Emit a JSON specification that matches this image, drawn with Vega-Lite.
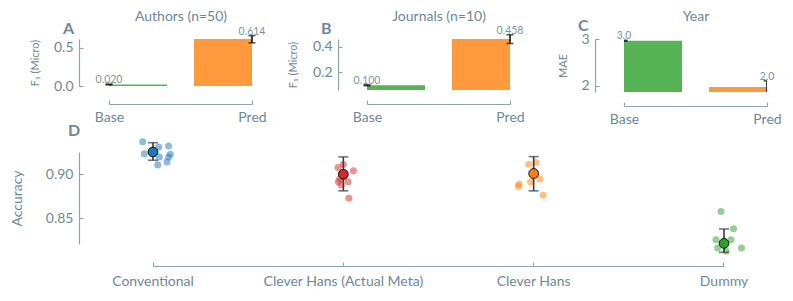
{
  "$schema": "https://vega.github.io/schema/vega-lite/v6.json",
  "background": "white",
  "padding": {"left": 10, "top": 9, "right": 0, "bottom": 0},
  "config": {
    "font": "Lato",
    "view": {"stroke": null},
    "axis": {
      "labelColor": "#6f8797", "titleColor": "#6f8797", "domainColor": "#8ea2b0", "tickColor": "#8ea2b0",
      "grid": false, "labelFont": "Lato", "titleFont": "Lato", "titleFontWeight": "normal",
      "labelFontSize": 14, "domainWidth": 1.2, "tickWidth": 1.2
    },
    "title": {"color": "#6f8797", "font": "Lato"}
  },
  "datasets": {
    "bars": [
      {"panel": "A", "cond": "Base", "value": 0.020, "lo": 0.016, "hi": 0.025, "label": "0.020"},
      {"panel": "A", "cond": "Pred", "value": 0.614, "lo": 0.565, "hi": 0.660, "label": "0.614"},
      {"panel": "B", "cond": "Base", "value": 0.100, "lo": 0.097, "hi": 0.104, "label": "0.100"},
      {"panel": "B", "cond": "Pred", "value": 0.458, "lo": 0.423, "hi": 0.491, "label": "0.458"},
      {"panel": "C", "cond": "Base", "value": 2.964, "lo": 2.955, "hi": 2.973, "label": "3.0"},
      {"panel": "C", "cond": "Pred", "value": 1.979, "lo": 1.851, "hi": 2.107, "label": "2.0"}
    ],
    "acc": [
      {"method": "Conventional", "jitter": -0.054, "acc": 0.9370},
      {"method": "Conventional", "jitter": -0.046, "acc": 0.9234},
      {"method": "Conventional", "jitter": 0.030, "acc": 0.9310},
      {"method": "Conventional", "jitter": 0.082, "acc": 0.9322},
      {"method": "Conventional", "jitter": 0.091, "acc": 0.9227},
      {"method": "Conventional", "jitter": 0.082, "acc": 0.9197},
      {"method": "Conventional", "jitter": 0.033, "acc": 0.9197},
      {"method": "Conventional", "jitter": 0.025, "acc": 0.9106},
      {"method": "Conventional", "jitter": 0.074, "acc": 0.9140},
      {"method": "Conventional", "jitter": -0.010, "acc": 0.9260},
      {"method": "Clever Hans (Actual Meta)", "jitter": -0.028, "acc": 0.9075},
      {"method": "Clever Hans (Actual Meta)", "jitter": 0.000, "acc": 0.9111},
      {"method": "Clever Hans (Actual Meta)", "jitter": 0.053, "acc": 0.9038},
      {"method": "Clever Hans (Actual Meta)", "jitter": -0.019, "acc": 0.8947},
      {"method": "Clever Hans (Actual Meta)", "jitter": 0.025, "acc": 0.8913},
      {"method": "Clever Hans (Actual Meta)", "jitter": -0.011, "acc": 0.8878},
      {"method": "Clever Hans (Actual Meta)", "jitter": 0.029, "acc": 0.8725},
      {"method": "Clever Hans (Actual Meta)", "jitter": -0.026, "acc": 0.8913},
      {"method": "Clever Hans (Actual Meta)", "jitter": 0.005, "acc": 0.8970},
      {"method": "Clever Hans", "jitter": -0.026, "acc": 0.9114},
      {"method": "Clever Hans", "jitter": 0.012, "acc": 0.9134},
      {"method": "Clever Hans", "jitter": -0.016, "acc": 0.8913},
      {"method": "Clever Hans", "jitter": 0.033, "acc": 0.8944},
      {"method": "Clever Hans", "jitter": -0.077, "acc": 0.8888},
      {"method": "Clever Hans", "jitter": -0.081, "acc": 0.8859},
      {"method": "Clever Hans", "jitter": 0.050, "acc": 0.8759},
      {"method": "Clever Hans", "jitter": 0.000, "acc": 0.9035},
      {"method": "Dummy", "jitter": -0.016, "acc": 0.8574},
      {"method": "Dummy", "jitter": 0.050, "acc": 0.8378},
      {"method": "Dummy", "jitter": -0.042, "acc": 0.8253},
      {"method": "Dummy", "jitter": 0.037, "acc": 0.8253},
      {"method": "Dummy", "jitter": -0.033, "acc": 0.8157},
      {"method": "Dummy", "jitter": 0.092, "acc": 0.8157},
      {"method": "Dummy", "jitter": 0.011, "acc": 0.8123},
      {"method": "Dummy", "jitter": 0.000, "acc": 0.8197}
    ],
    "accsum": [
      {"method": "Conventional", "mean": 0.9253, "lo": 0.9159, "hi": 0.9359},
      {"method": "Clever Hans (Actual Meta)", "mean": 0.9000, "lo": 0.8810, "hi": 0.9197},
      {"method": "Clever Hans", "mean": 0.9007, "lo": 0.8810, "hi": 0.9200},
      {"method": "Dummy", "mean": 0.8211, "lo": 0.8109, "hi": 0.8375}
    ]
  },
  "spacing": -3,
  "vconcat": [
    {
      "spacing": 20,
      "hconcat": [
        {
          "width": 143, "height": 47,
          "title": {"text": "A", "anchor": "start", "frame": "group", "fontSize": 16, "fontWeight": "bold", "dx": -46, "dy": 32},
          "data": {"name": "bars"},
          "transform": [{"filter": "datum.panel == 'A'"}],
          "resolve": {"axis": {"x": "independent"}},
          "layer": [
            {
              "transform": [{"filter": "datum.cond == 'Base'"}],
              "mark": {"type": "bar", "width": 72, "xOffset": 22, "color": "#56b356", "clip": true},
              "encoding": {
                "x": {"field": "cond", "type": "nominal", "scale": {"type": "point", "domain": ["Base", "Pred"], "padding": 0},
                      "axis": {"orient": "bottom", "title": null, "offset": 18, "labelAngle": 0, "tickSize": -4, "labelPadding": 10}},
                "y": {"field": "value", "type": "quantitative", "title": ["", "F₁ (Micro)"],
                      "scale": {"domain": [0, 0.615], "nice": false, "zero": false},
                      "axis": {"orient": "left", "offset": 30, "values": [0, 0.5], "format": ".1f", "tickSize": -4, "labelPadding": 10, "titleFontSize": 11, "titleLineHeight": 17, "titlePadding": 13}}
              }
            },
            {
              "transform": [{"filter": "datum.cond == 'Pred'"}],
              "mark": {"type": "bar", "width": 72, "xOffset": -22, "color": "#ff993e", "clip": true},
              "encoding": {
                "x": {"field": "cond", "type": "nominal", "axis": null},
                "y": {"field": "value", "type": "quantitative", "title": ["", "F₁ (Micro)"]}
              }
            },
            {
              "mark": {"type": "errorbar", "ticks": true, "size": 7, "thickness": 1.6, "color": "#111111"},
              "encoding": {
                "x": {"field": "cond", "type": "nominal", "axis": null},
                "y": {"field": "lo", "type": "quantitative", "title": ["", "F₁ (Micro)"]},
                "y2": {"field": "hi"}
              }
            },
            {
              "mark": {"type": "text", "baseline": "middle", "dy": -4, "fontSize": 10.5, "color": "#7d93a3"},
              "encoding": {
                "x": {"field": "cond", "type": "nominal",
                      "axis": {"orient": "top", "title": "Authors (n=50)", "labels": false, "ticks": false, "domain": false, "titleFontSize": 14, "titlePadding": 16}},
                "y": {"field": "hi", "type": "quantitative", "title": ["", "F₁ (Micro)"]},
                "text": {"field": "label"}
              }
            }
          ]
        },
        {
          "width": 143, "height": 51,
          "title": {"text": "B", "anchor": "start", "frame": "group", "fontSize": 16, "fontWeight": "bold", "dx": -46, "dy": 32},
          "data": {"name": "bars"},
          "transform": [{"filter": "datum.panel == 'B'"}],
          "resolve": {"axis": {"x": "independent"}},
          "layer": [
            {
              "transform": [{"filter": "datum.cond == 'Base'"}],
              "mark": {"type": "bar", "width": 72, "xOffset": 22, "color": "#56b356", "clip": true},
              "encoding": {
                "x": {"field": "cond", "type": "nominal", "scale": {"type": "point", "domain": ["Base", "Pred"], "padding": 0},
                      "axis": {"orient": "bottom", "title": null, "offset": 14, "labelAngle": 0, "tickSize": -4, "labelPadding": 10}},
                "y": {"field": "value", "type": "quantitative", "title": "F₁ (Micro)",
                      "scale": {"domain": [0.0636, 0.458], "nice": false, "zero": false},
                      "axis": {"orient": "left", "offset": 29, "values": [0.2, 0.4], "format": ".1f", "tickSize": -4, "labelPadding": 10, "titleFontSize": 11, "titlePadding": 14}}
              }
            },
            {
              "transform": [{"filter": "datum.cond == 'Pred'"}],
              "mark": {"type": "bar", "width": 72, "xOffset": -22, "color": "#ff993e", "clip": true},
              "encoding": {
                "x": {"field": "cond", "type": "nominal", "axis": null},
                "y": {"field": "value", "type": "quantitative", "title": "F₁ (Micro)"}
              }
            },
            {
              "mark": {"type": "errorbar", "ticks": true, "size": 7, "thickness": 1.6, "color": "#111111"},
              "encoding": {
                "x": {"field": "cond", "type": "nominal", "axis": null},
                "y": {"field": "lo", "type": "quantitative", "title": "F₁ (Micro)"},
                "y2": {"field": "hi"}
              }
            },
            {
              "mark": {"type": "text", "baseline": "middle", "dy": -4, "fontSize": 10.5, "color": "#7d93a3"},
              "encoding": {
                "x": {"field": "cond", "type": "nominal",
                      "axis": {"orient": "top", "title": "Journals (n=10)", "labels": false, "ticks": false, "domain": false, "titleFontSize": 14, "titlePadding": 16}},
                "y": {"field": "hi", "type": "quantitative", "title": "F₁ (Micro)"},
                "text": {"field": "label"}
              }
            }
          ]
        },
        {
          "width": 143, "height": 53,
          "title": {"text": "C", "anchor": "start", "frame": "group", "fontSize": 16, "fontWeight": "bold", "dx": -46, "dy": 29},
          "data": {"name": "bars"},
          "transform": [{"filter": "datum.panel == 'C'"}],
          "resolve": {"axis": {"x": "independent"}},
          "layer": [
            {
              "transform": [{"filter": "datum.cond == 'Base'"}],
              "mark": {"type": "bar", "width": 72, "xOffset": 22, "color": "#56b356", "clip": true},
              "encoding": {
                "x": {"field": "cond", "type": "nominal", "scale": {"type": "point", "domain": ["Base", "Pred"], "padding": 0},
                      "axis": {"orient": "bottom", "title": null, "offset": 14, "labelAngle": 0, "tickSize": -4, "labelPadding": 10}},
                "y": {"field": "value", "type": "quantitative", "title": ["", "MAE"],
                      "scale": {"domain": [1.87, 3.0], "nice": false, "zero": false},
                      "axis": {"orient": "left", "offset": 29, "values": [2, 3], "format": "d", "tickSize": -4, "labelPadding": 10, "titleFontSize": 11, "titleLineHeight": 12, "titlePadding": 12}}
              }
            },
            {
              "transform": [{"filter": "datum.cond == 'Pred'"}],
              "mark": {"type": "bar", "width": 72, "xOffset": -22, "color": "#ff993e", "clip": true},
              "encoding": {
                "x": {"field": "cond", "type": "nominal", "axis": null},
                "y": {"field": "value", "type": "quantitative", "title": ["", "MAE"]}
              }
            },
            {
              "mark": {"type": "errorbar", "ticks": true, "size": 7, "thickness": 1.6, "color": "#111111", "clip": true},
              "encoding": {
                "x": {"field": "cond", "type": "nominal", "axis": null},
                "y": {"field": "lo", "type": "quantitative", "title": ["", "MAE"]},
                "y2": {"field": "hi"}
              }
            },
            {
              "mark": {"type": "text", "baseline": "middle", "dy": -4, "fontSize": 10.5, "color": "#7d93a3"},
              "encoding": {
                "x": {"field": "cond", "type": "nominal",
                      "axis": {"orient": "top", "title": "Year", "labels": false, "ticks": false, "domain": false, "titleFontSize": 14, "titlePadding": 16}},
                "y": {"field": "hi", "type": "quantitative", "title": ["", "MAE"]},
                "text": {"field": "label"}
              }
            }
          ]
        }
      ]
    },
    {
      "width": 659, "height": 92,
      "title": {"text": "D", "anchor": "start", "frame": "group", "fontSize": 16, "fontWeight": "bold", "dx": -41, "offset": -1},
      "layer": [
        {
          "data": {"name": "acc"},
          "mark": {"type": "circle", "size": 50, "opacity": 0.5},
          "encoding": {
            "x": {"field": "method", "type": "nominal", "title": null,
                  "scale": {"domain": ["Conventional", "Clever Hans (Actual Meta)", "Clever Hans", "Dummy"], "paddingInner": 0.6, "paddingOuter": 0.0312},
                  "axis": {"orient": "bottom", "offset": 22, "labelAngle": 0, "tickSize": -4, "labelPadding": 12, "labelFontSize": 14,
                           "domainDash": [571, 2000], "domainDashOffset": 2527}},
            "xOffset": {"field": "jitter", "type": "quantitative", "scale": {"domain": [-0.2, 0.2], "range": [0, 76.13]}},
            "y": {"field": "acc", "type": "quantitative", "title": "Accuracy",
                  "scale": {"domain": [0.8204, 0.9253], "nice": false, "zero": false},
                  "axis": {"orient": "left", "offset": 30, "values": [0.85, 0.9], "format": ".2f", "tickSize": -4, "labelPadding": 10, "titleFontSize": 14, "titlePadding": 21}},
            "color": {"field": "method", "type": "nominal", "legend": null,
                      "scale": {"domain": ["Conventional", "Clever Hans (Actual Meta)", "Clever Hans", "Dummy"], "range": ["#1f77b4", "#d62728", "#ff7f0e", "#2ca02c"]}}
          }
        },
        {
          "data": {"name": "accsum"},
          "mark": {"type": "errorbar", "ticks": true, "size": 10, "thickness": 1.6, "color": "#3b3b3b"},
          "encoding": {
            "x": {"field": "method", "type": "nominal"},
            "y": {"field": "lo", "type": "quantitative", "title": "Accuracy"},
            "y2": {"field": "hi"}
          }
        },
        {
          "data": {"name": "accsum"},
          "mark": {"type": "circle", "size": 95, "opacity": 1, "stroke": "#111111", "strokeWidth": 1},
          "encoding": {
            "x": {"field": "method", "type": "nominal"},
            "y": {"field": "mean", "type": "quantitative", "title": "Accuracy"},
            "color": {"field": "method", "type": "nominal", "legend": null}
          }
        }
      ]
    }
  ]
}
